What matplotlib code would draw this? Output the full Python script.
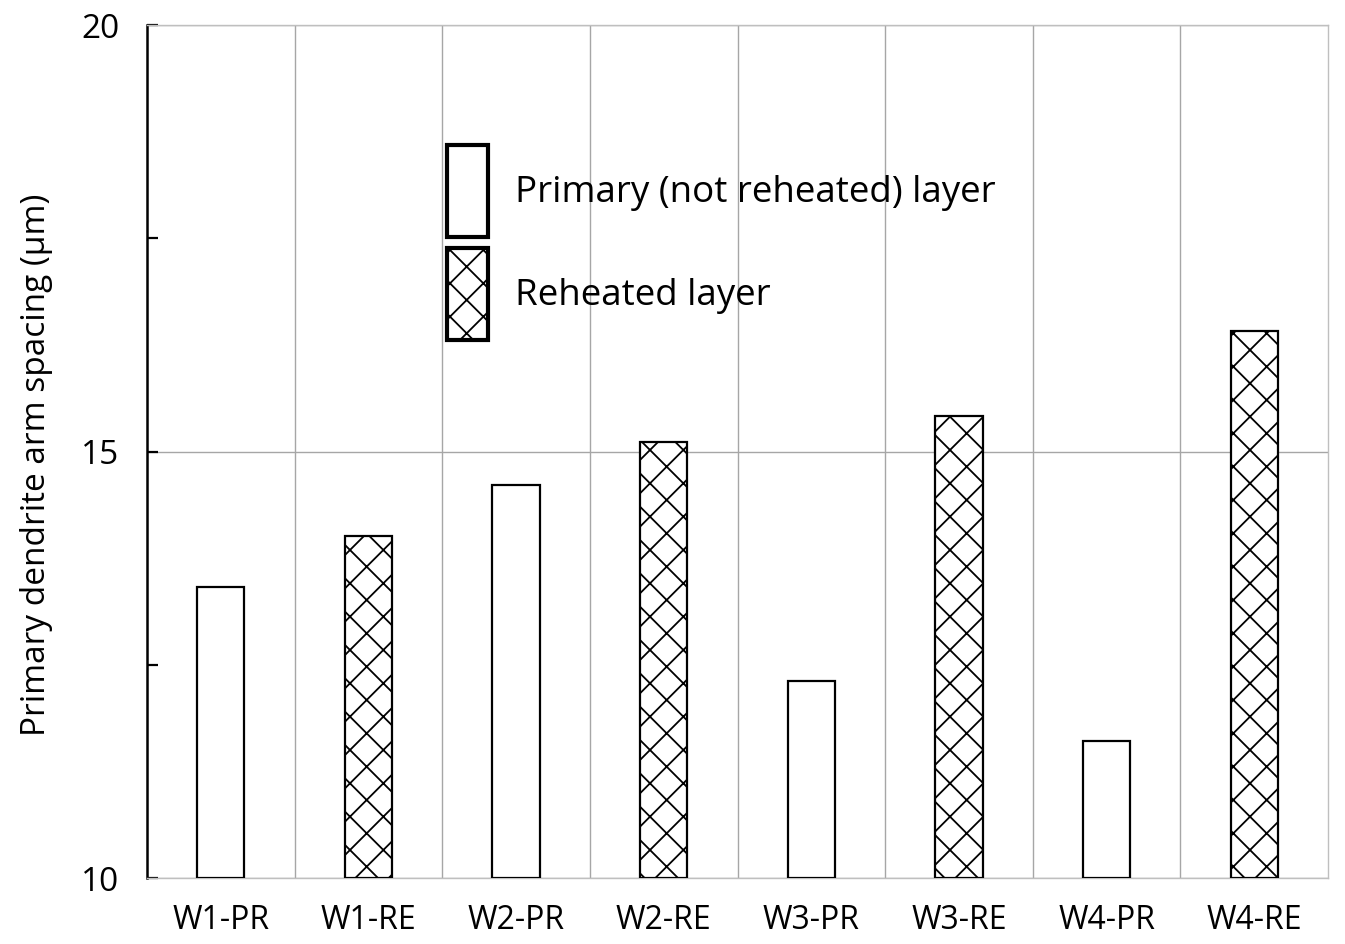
import matplotlib
matplotlib.use("Agg")
import matplotlib.pyplot as plt
from matplotlib.patches import Patch
from matplotlib.ticker import MultipleLocator, FixedLocator

plt.rcParams['font.family'] = ['Open Sans', 'DejaVu Sans']
plt.rcParams['hatch.linewidth'] = 1.3

categories = ["W1-PR", "W1-RE", "W2-PR", "W2-RE", "W3-PR", "W3-RE", "W4-PR", "W4-RE"]
values = [13.41, 14.01, 14.61, 15.11, 12.31, 15.42, 11.61, 16.41]
reheated = [False, True, False, True, False, True, False, True]
legend_labels = ["Primary (not reheated) layer", "Reheated layer"]
y_label = "Primary dendrite arm spacing (\u03bcm)"

fig = plt.figure(figsize=(13.45, 9.44), dpi=100)
ax = fig.add_axes([0.1093, 0.0699, 0.9874 - 0.1093, 0.9735 - 0.0699])

x = list(range(len(categories)))
for xi, v, r in zip(x, values, reheated):
    ax.bar(xi, v - 10, bottom=10, width=0.32, facecolor='white', edgecolor='black',
           linewidth=1.6, hatch='x' if r else None, zorder=3)

ax.set_xlim(-0.5, len(categories) - 0.5)
ax.set_ylim(10, 20)
ax.set_xticks(x)
ax.set_xticklabels(categories, fontsize=23)
ax.tick_params(axis='x', length=0, pad=19)
ax.xaxis.set_minor_locator(FixedLocator([i + 0.5 for i in range(len(categories) - 1)]))
ax.tick_params(axis='x', which='minor', length=0)
ax.grid(axis='x', which='minor', color='#a6a6a6', linewidth=1.0, zorder=0)

ax.yaxis.set_major_locator(MultipleLocator(5))
ax.yaxis.set_minor_locator(MultipleLocator(2.5))
ax.tick_params(axis='y', which='both', direction='in', length=8, width=1.6, labelsize=24, pad=20)
ax.grid(axis='y', which='major', color='#a6a6a6', linewidth=1.0, zorder=0)
ax.set_ylabel(y_label, fontsize=24, labelpad=20)
ax.yaxis.label.set_y(0.484)

ax.spines['left'].set_linewidth(1.8)
ax.spines['left'].set_color('black')
for s in ['top', 'right', 'bottom']:
    ax.spines[s].set_color('#bfbfbf')
    ax.spines[s].set_linewidth(1.0)

handles = [Patch(facecolor='white', edgecolor='black', linewidth=3.0),
           Patch(facecolor='white', edgecolor='black', linewidth=3.0, hatch='x')]
ax.legend(handles, legend_labels, loc='upper left', bbox_to_anchor=(0.254, 0.859),
          fontsize=26.5, frameon=False, handlelength=1.12, handleheight=3.47,
          handletextpad=0.72, labelspacing=0.3, borderaxespad=0, borderpad=0)

fig.savefig("out.png", dpi=100)
